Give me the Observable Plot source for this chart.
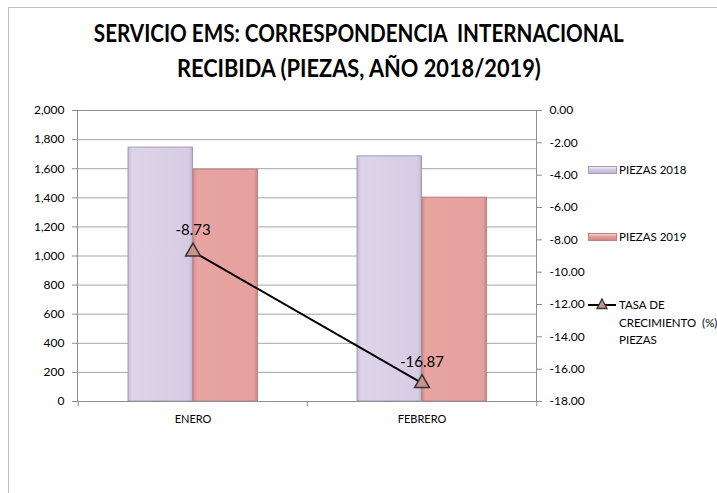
<!DOCTYPE html>
<html><head><meta charset="utf-8">
<script src="https://cdn.jsdelivr.net/npm/d3@7"></script>
<script src="https://cdn.jsdelivr.net/npm/@observablehq/plot@0.6"></script>
<style>
body{margin:0;background:#fff;}
#wrap{position:relative;width:717px;height:493px;overflow:hidden;font-family:Lato,'Open Sans',sans-serif;color:#000;}
#frame{position:absolute;left:8px;top:7px;width:800px;height:600px;border-left:1px solid #bdbdbd;border-top:1px solid #bdbdbd;}
.tl{position:absolute;left:0;width:717px;text-align:center;font-weight:bold;font-size:25px;line-height:35px;white-space:pre;}
.tl span{display:inline-block;transform-origin:center;}
#chart{position:absolute;left:0;top:90px;}
.lt{position:absolute;left:619px;font-size:11.5px;line-height:17.5px;white-space:pre;}
.sw{position:absolute;left:588px;width:27px;height:6px;}
</style></head>
<body><div id="wrap">
<div id="frame"></div>
<div class="tl" style="top:15px;"><span id="t1" data-w="530">SERVICIO EMS: CORRESPONDENCIA  INTERNACIONAL</span></div>
<div class="tl" style="top:50px;"><span id="t2" data-w="364">RECIBIDA (PIEZAS, AÑO 2018/2019)</span></div>
<div id="chart"></div>
<div class="sw" style="top:166px;background:linear-gradient(#f2eef8,#d6cde4 40%,#bfb4d2);border:1px solid #a59bb8;"></div>
<div class="lt" style="top:161px;">PIEZAS 2018</div>
<div class="sw" style="top:233px;background:linear-gradient(#f6d6d5,#e6a09d 40%,#cf8784);border:1px solid #bc7f7c;"></div>
<div class="lt" style="top:228px;">PIEZAS 2019</div>
<svg style="position:absolute;left:586px;top:296px" width="32" height="18"><line x1="2" y1="9" x2="30" y2="9" stroke="#000" stroke-width="2"/><path d="M16,3 L21,12.5 L11,12.5 Z" fill="#c99490" stroke="#333" stroke-width="1.3"/></svg>
<div class="lt" style="top:296px;">TASA DE
CRECIMIENTO  (%)
PIEZAS</div>
</div>
<script>
const months = ["ENERO", "FEBRERO"];
const piezas2018 = [1745, 1685];
const piezas2019 = [1593, 1401];
const tasa = [-8.73, -16.87];
const leftTicks = [0, 200, 400, 600, 800, 1000, 1200, 1400, 1600, 1800, 2000];
const rightTicks = [0, -2, -4, -6, -8, -10, -12, -14, -16, -18];

// fit title lines to the reference widths
for (const id of ["t1", "t2"]) {
  const el = document.getElementById(id);
  const w = el.getBoundingClientRect().width;
  el.style.transform = `scaleX(${(+el.dataset.w / w).toFixed(3)})`;
}

const toLeft = v => (v + 18) / 18 * 2000;
const rows18 = months.map((m, i) => ({month: m, value: piezas2018[i]}));
const rows19 = months.map((m, i) => ({month: m, value: piezas2019[i]}));
const rowsT = months.map((m, i) => ({month: m, value: tasa[i]}));

const grid = "#a6a6a6";
const svg = Plot.plot({
  width: 717, height: 403,
  marginTop: 20, marginLeft: 77, marginRight: 181, marginBottom: 92,
  style: {fontFamily: "Lato,'Open Sans',sans-serif", fontSize: "12px", color: "#000", background: "transparent"},
  x: {type: "band", domain: months, padding: 0, axis: null},
  y: {domain: [0, 2000], axis: null},
  marks: [
    Plot.gridY(leftTicks, {stroke: grid, strokeOpacity: 1, strokeWidth: 1}),
    Plot.barY(rows18, {x: "month", y: "value", fill: "url(#g18)", stroke: "#a39ab6", strokeWidth: 1, insetLeft: 50, insetRight: 114.5}),
    Plot.barY(rows19, {x: "month", y: "value", fill: "url(#g19)", stroke: "#bd817e", strokeWidth: 1, insetLeft: 115, insetRight: 49.5}),
    Plot.frame({stroke: "#8e8e8e"}),
    Plot.axisY(leftTicks, {anchor: "left", label: null, tickSize: 5, tickPadding: 8, stroke: "#8e8e8e", tickFormat: d3.format(",")}),
    Plot.axisY(rightTicks.map(toLeft), {anchor: "right", label: null, tickSize: 5, tickPadding: 8, stroke: "#8e8e8e", tickFormat: d => (d * 18 / 2000 - 18).toFixed(2)}),
    Plot.axisX(months, {anchor: "bottom", label: null, tickSize: 0, tickPadding: 14, fontSize: 11}),
    Plot.axisX(months, {anchor: "bottom", label: null, tickSize: 5, stroke: "#8e8e8e", text: null, dx: -114.75}),
    Plot.axisX(["FEBRERO"], {anchor: "bottom", label: null, tickSize: 5, stroke: "#8e8e8e", text: null, dx: 114.75}),
    Plot.line(rowsT, {x: "month", y: d => toLeft(d.value), stroke: "#000", strokeWidth: 2}),
    Plot.dot(rowsT, {x: "month", y: d => toLeft(d.value), symbol: "triangle", r: 5.5, fill: "#c99490", stroke: "#333", strokeWidth: 1.5}),
    Plot.text(rowsT, {x: "month", y: d => toLeft(d.value), text: d => d.value.toFixed(2), dy: -21, fontSize: 15, fill: "#000"})
  ]
});
const ns = "http://www.w3.org/2000/svg";
const defs = document.createElementNS(ns, "defs");
defs.innerHTML = `
<linearGradient id="g18" x1="0" x2="1" y1="0" y2="0">
  <stop offset="0" stop-color="#c3b9d6"/><stop offset="0.06" stop-color="#dcd4e9"/>
  <stop offset="0.94" stop-color="#d6cde4"/><stop offset="1" stop-color="#bfb4d2"/>
</linearGradient>
<linearGradient id="g19" x1="0" x2="1" y1="0" y2="0">
  <stop offset="0" stop-color="#d48b88"/><stop offset="0.06" stop-color="#e8a4a1"/>
  <stop offset="0.94" stop-color="#e6a09d"/><stop offset="1" stop-color="#cf8784"/>
</linearGradient>`;
svg.insertBefore(defs, svg.firstChild);
document.getElementById("chart").appendChild(svg);
</script>
</body></html>
